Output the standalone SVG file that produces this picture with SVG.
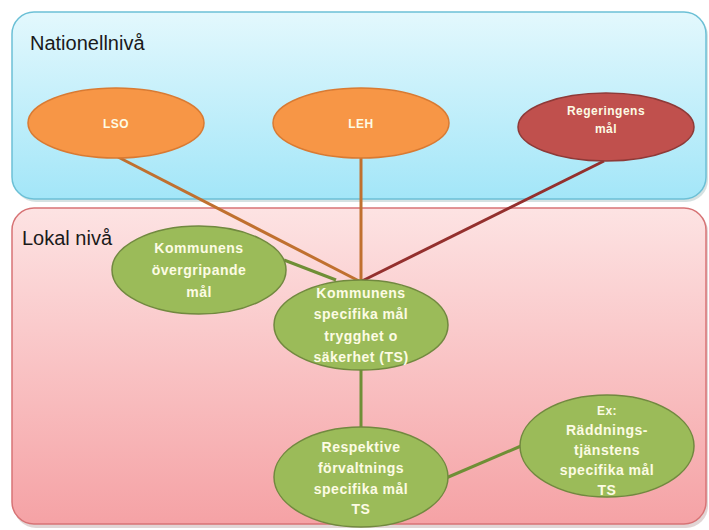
<svg xmlns="http://www.w3.org/2000/svg" width="709" height="530" viewBox="0 0 709 530">
<defs>
<linearGradient id="gBlue" x1="0" y1="0" x2="0" y2="1">
<stop offset="0" stop-color="#e3f8fd"/>
<stop offset="1" stop-color="#a3e6f8"/>
</linearGradient>
<linearGradient id="gPink" x1="0" y1="0" x2="0" y2="1">
<stop offset="0" stop-color="#fde3e3"/>
<stop offset="1" stop-color="#f5a2a5"/>
</linearGradient>
<style>
.lvl{font-family:"Liberation Sans",Arial,sans-serif;font-size:20px;fill:#1a1a1a}
.nt{font-family:"Liberation Sans",Arial,sans-serif;font-size:14px;font-weight:bold;fill:#fdfbe4;text-anchor:middle;letter-spacing:0.5px}
.ns{font-size:12px}
.or{fill:#f79646;stroke:#d97a32;stroke-width:1.5}
.rd{fill:#c0504d;stroke:#8e3a38;stroke-width:1.5}
.gr{fill:#9bbb59;stroke:#71893f;stroke-width:1.5}
.c{stroke-width:3;fill:none}
</style>
</defs>
<rect width="709" height="530" fill="#ffffff"/>
<g id="nationell">
<rect x="14" y="14" width="694" height="188" rx="22" fill="#8aa" opacity="0.35"/>
<rect x="12" y="12" width="694" height="187" rx="22" fill="url(#gBlue)" stroke="#6cc0d6" stroke-width="1.5"/>
<text class="lvl" x="30" y="50">Nationellnivå</text>
</g>
<g id="lokal">
<rect x="14" y="210" width="694" height="318" rx="22" fill="#a88" opacity="0.35"/>
<rect x="12" y="208" width="694" height="316" rx="22" fill="url(#gPink)" stroke="#d77375" stroke-width="1.5"/>
<text class="lvl" x="22" y="245">Lokal nivå</text>
</g>
<g id="connectors">
<line class="c" x1="118" y1="157" x2="359" y2="281" stroke="#c0702f"/>
<line class="c" x1="361" y1="158" x2="361" y2="281" stroke="#c0702f"/>
<line class="c" x1="604" y1="161" x2="362" y2="281" stroke="#94302e"/>
<line class="c" x1="284" y1="260" x2="336" y2="280" stroke="#6f8f36"/>
<line class="c" x1="361" y1="369" x2="361" y2="428" stroke="#6f8f36"/>
<line class="c" x1="446" y1="478" x2="521" y2="446" stroke="#6f8f36"/>
</g>
<g id="lso">
<ellipse class="or" cx="116" cy="123" rx="88" ry="35"/>
<text class="nt ns" x="116" y="128">LSO</text>
</g>
<g id="leh">
<ellipse class="or" cx="361" cy="123" rx="88" ry="35"/>
<text class="nt ns" x="361" y="128">LEH</text>
</g>
<g id="regeringens">
<ellipse class="rd" cx="606" cy="127" rx="88" ry="34"/>
<text class="nt ns" x="606" y="115">Regeringens</text>
<text class="nt ns" x="606" y="133">mål</text>
</g>
<g id="overgripande">
<ellipse class="gr" cx="199" cy="270" rx="87" ry="44"/>
<text class="nt" x="199" y="253">Kommunens</text>
<text class="nt" x="199" y="275">övergripande</text>
<text class="nt" x="199" y="297">mål</text>
</g>
<g id="specifika">
<ellipse class="gr" cx="361" cy="325" rx="87" ry="45"/>
<text class="nt" x="361" y="298">Kommunens</text>
<text class="nt" x="361" y="319">specifika mål</text>
<text class="nt" x="361" y="341">trygghet  o</text>
<text class="nt" x="361" y="362">säkerhet (TS)</text>
</g>
<g id="respektive">
<ellipse class="gr" cx="361" cy="477" rx="87" ry="50"/>
<text class="nt" x="361" y="452">Respektive</text>
<text class="nt" x="361" y="473">förvaltnings</text>
<text class="nt" x="361" y="494">specifika mål</text>
<text class="nt" x="361" y="514">TS</text>
</g>
<g id="raddning">
<ellipse class="gr" cx="607" cy="446" rx="87" ry="51"/>
<text class="nt ns" x="607" y="415">Ex:</text>
<text class="nt" x="607" y="435">Räddnings-</text>
<text class="nt" x="607" y="455">tjänstens</text>
<text class="nt" x="607" y="475">specifika mål</text>
<text class="nt" x="607" y="495">TS</text>
</g>
</svg>
